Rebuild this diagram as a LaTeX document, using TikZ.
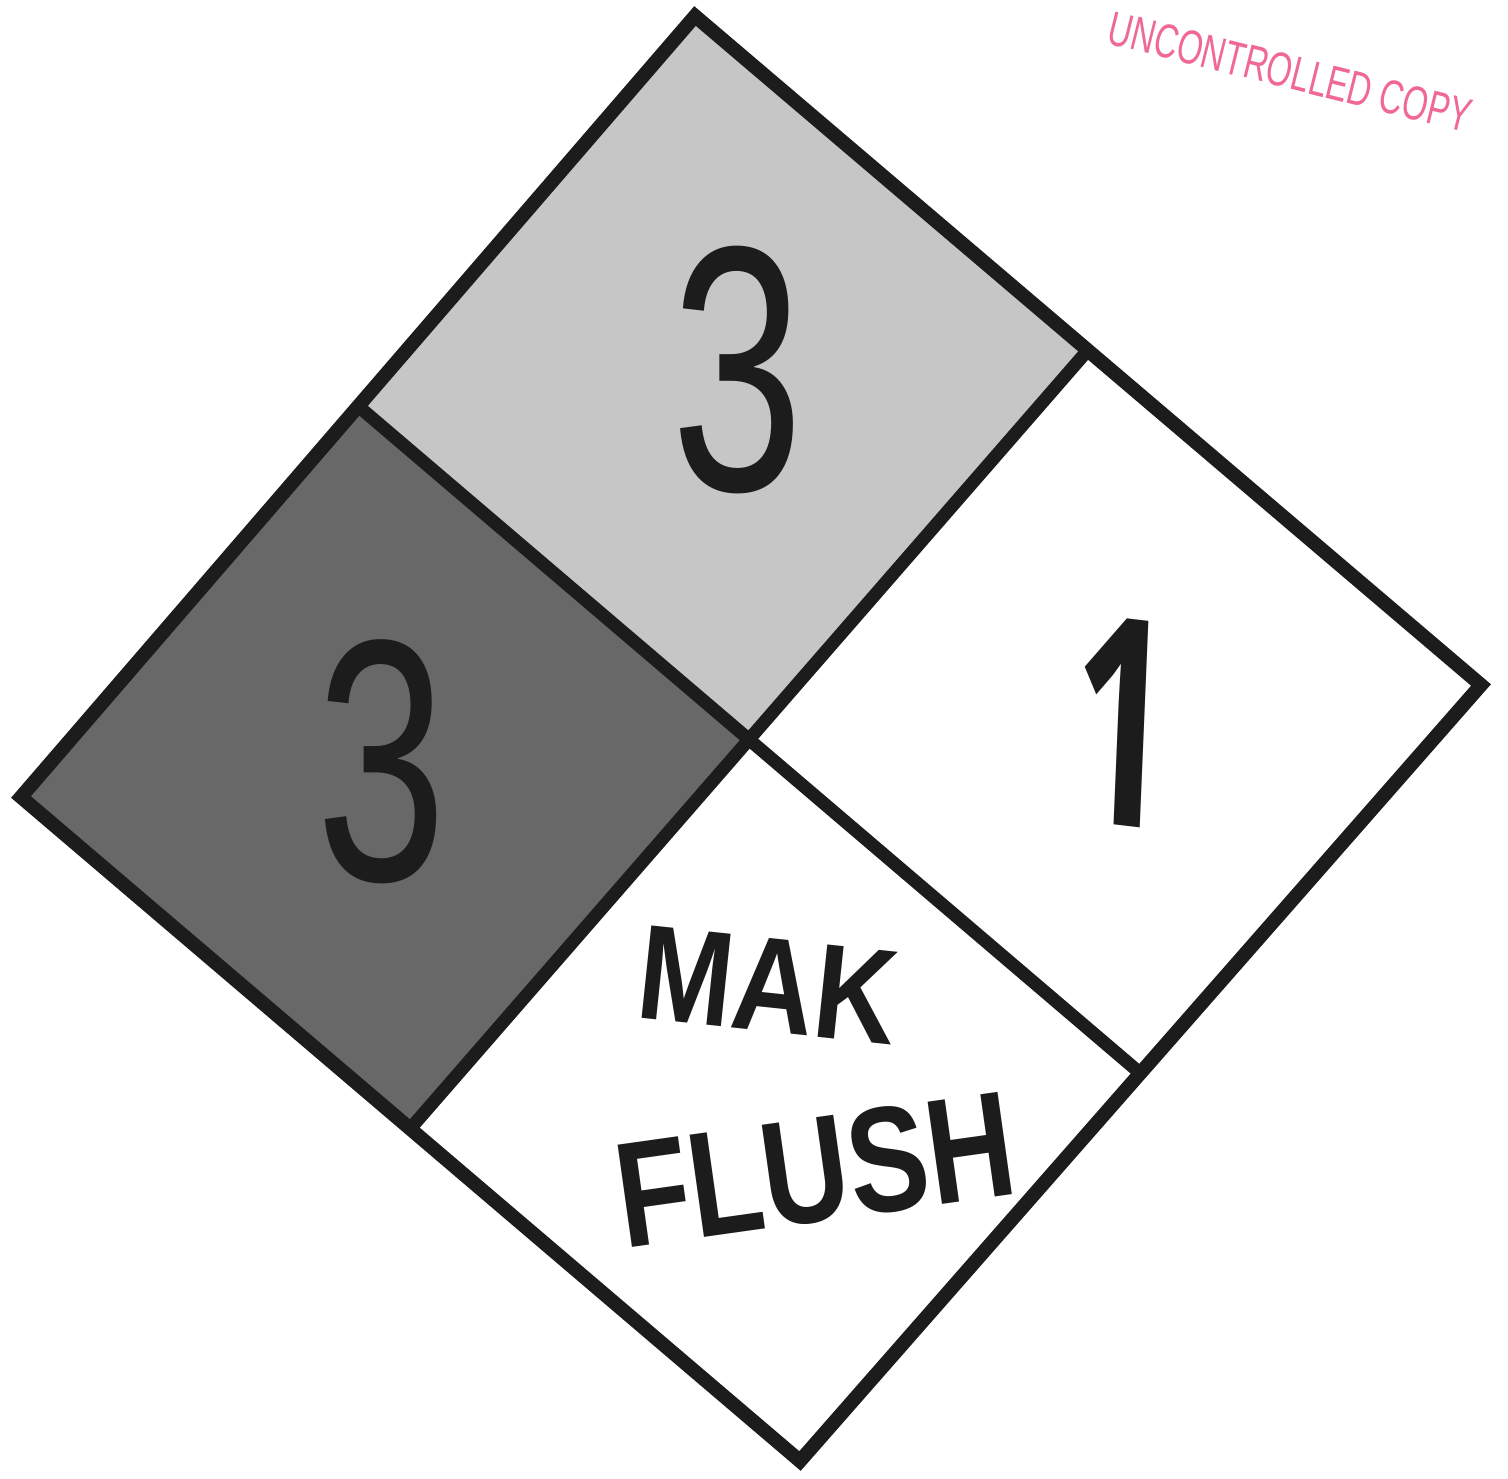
\documentclass[tikz,border=0pt]{standalone}
\usepackage{fontspec}
\setmainfont{Liberation Sans}
\newfontfamily\onefont{Open Sans}
\definecolor{lightq}{RGB}{198,198,198}
\definecolor{darkq}{RGB}{104,104,104}
\definecolor{ink}{RGB}{28,28,28}
\definecolor{stamp}{RGB}{240,105,150}
\tikzset{
  frame/.style={draw=ink,line width=14pt,line join=miter},
  divider/.style={draw=ink,line width=13pt},
  digit/.style={inner sep=0pt,text=ink},
  words/.style={inner sep=0pt,text=ink,font=\bfseries\fontsize{150}{150}\selectfont}
}
\begin{document}
\begin{tikzpicture}[x=1pt,y=-1pt]
\useasboundingbox (0,0) rectangle (1508,1479);
\fill[white] (0,0) rectangle (1508,1479);
\coordinate (T) at (695,16);
\coordinate (R) at (1481,685);
\coordinate (B) at (800,1461);
\coordinate (L) at (21,797);
\coordinate (C) at (750,740);
\coordinate (TL) at (358,406);
\coordinate (TR) at (1088,350);
\coordinate (BL) at (410,1129);
\coordinate (BR) at (1140,1073);
\fill[lightq] (T) -- (TR) -- (C) -- (TL) -- cycle;
\fill[darkq] (TL) -- (C) -- (BL) -- (L) -- cycle;
\draw[divider] (TL) -- (BR);
\draw[divider] (TR) -- (BL);
\draw[frame] (T) -- (R) -- (B) -- (L) -- cycle;
\node[digit,font=\fontsize{350}{350}\selectfont,xscale=0.68] (flam) at (738,370) {3};
\node[digit,font=\fontsize{345}{345}\selectfont,xscale=0.68] (health) at (382,762) {3};
\node[digit,font=\onefont\bfseries\fontsize{290}{290}\selectfont,xscale=0.6,rotate=-4] (react) at (1122,722) {1};
\node[words,rotate=-6,xscale=0.76,yscale=0.9] (mak) at (768,985) {MAK};
\node[words,rotate=8,xscale=0.8] (flush) at (815,1170) {FLUSH};
\node[inner sep=0pt,text=stamp,font=\fontsize{48}{48}\selectfont,rotate=-14,xscale=0.68] (copy) at (1290,72) {UNCONTROLLED COPY};
\end{tikzpicture}
\end{document}
